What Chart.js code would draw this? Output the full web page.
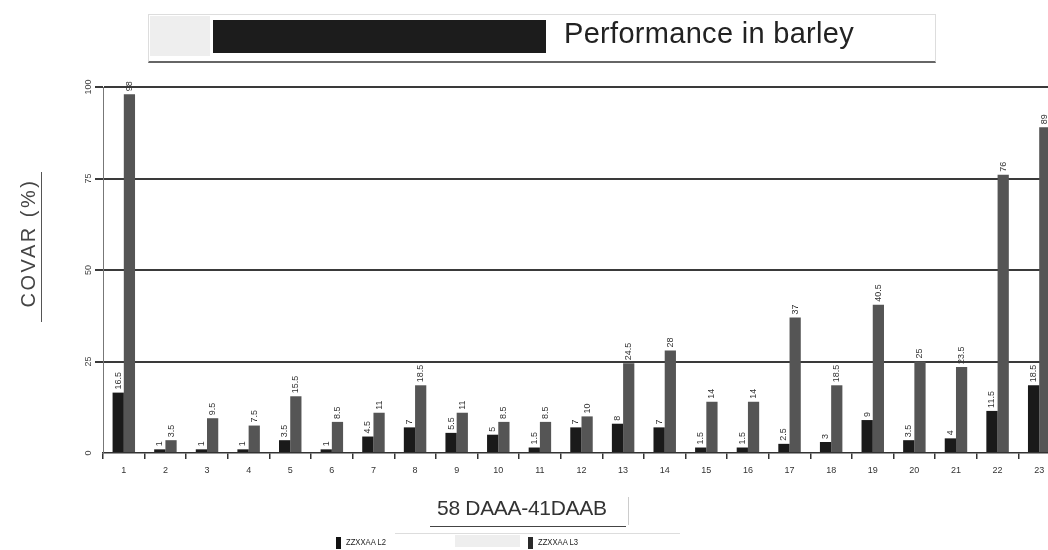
<!DOCTYPE html>
<html>
<head>
<meta charset="utf-8">
<script src="https://cdn.jsdelivr.net/npm/chart.js@4.4.0/dist/chart.umd.min.js"></script>
<style>
  html, body { margin: 0; padding: 0; background: #fff; overflow: hidden; }
  body { width: 1048px; height: 550px; position: relative; font-family: "Liberation Sans", Arial, sans-serif; }
  #wrap { position: absolute; left: 0; top: 0; width: 1075px; height: 550px; }
  .abs { position: absolute; }
  #titleBox { left: 148px; top: 14px; width: 786px; height: 46px; border: 1px solid #ddd; border-bottom: 2px solid #666; }
  #titleShade { left: 150px; top: 16px; width: 60px; height: 40px; background: #eee; }
  #titleBlock { left: 213px; top: 20px; width: 333px; height: 33px; background: #1c1c1c; }
  #titleText { left: 564px; top: 17px; font-size: 29px; color: #222; white-space: nowrap; letter-spacing: 0.3px; }
  #yTitle { left: 28px; top: 243px; font-size: 20px; color: #444; transform: translate(-50%, -50%) rotate(-90deg); white-space: nowrap; letter-spacing: 2.5px; }
  #yRule { left: 41px; top: 172px; width: 1px; height: 150px; background: #555; }
  #xTitle { left: 437px; top: 496px; font-size: 21px; color: #333; white-space: nowrap; letter-spacing: -0.3px; }
  #xRule { left: 430px; top: 526px; width: 196px; height: 1px; background: #444; }
  #xBoxEdge { left: 628px; top: 497px; width: 1px; height: 28px; background: #ccc; }
  .legMark { width: 5px; height: 12px; background: #111; }
  .legText { font-size: 9px; color: #222; white-space: nowrap; transform: scaleX(0.85); transform-origin: left center; }
  #legShade { left: 455px; top: 535px; width: 65px; height: 12px; background: #eee; }
  #legRule { left: 395px; top: 533px; width: 285px; height: 1px; background: #ddd; }
</style>
</head>
<body>
<div id="wrap"><canvas id="chart" width="1075" height="550"></canvas></div>

<div class="abs" id="titleBox"></div>
<div class="abs" id="titleShade"></div>
<div class="abs" id="titleBlock"></div>
<div class="abs" id="titleText">Performance in barley</div>

<div class="abs" id="yTitle">COVAR (%)</div>
<div class="abs" id="yRule"></div>

<div class="abs" id="xTitle">58 DAAA-41DAAB</div>
<div class="abs" id="xRule"></div>
<div class="abs" id="xBoxEdge"></div>

<div class="abs" id="legRule"></div>
<div class="abs" id="legShade"></div>
<div class="abs legMark" style="left:336px; top:537px;"></div>
<div class="abs legText" style="left:346px; top:537px;">ZZXXAA L2</div>
<div class="abs legMark" style="left:528px; top:537px; background:#2a2a2a;"></div>
<div class="abs legText" style="left:538px; top:537px;">ZZXXAA L3</div>

<script>
// categories and series
const lines = ["1", "2", "3", "4", "5", "6", "7", "8", "9", "10", "11", "12",
               "13", "14", "15", "16", "17", "18", "19", "20", "21", "22", "23"];
const seriesL2 = [16.5, 1, 1, 1, 3.5, 1, 4.5, 7, 5.5, 5, 1.5, 7,
                  8, 7, 1.5, 1.5, 2.5, 3, 9, 3.5, 4, 11.5, 18.5];
const seriesL3 = [98, 3.5, 9.5, 7.5, 15.5, 8.5, 11, 18.5, 11, 8.5, 8.5, 10,
                  24.5, 28, 14, 14, 37, 18.5, 40.5, 25, 23.5, 76, 89];
const yTicks = [0, 25, 50, 75, 100];

// rotated value labels above each bar
const valueLabels = {
    id: "valueLabels",
    afterDatasetsDraw(chart) {
        const ctx = chart.ctx;
        ctx.save();
        ctx.font = "9px 'Liberation Sans', Arial, sans-serif";
        ctx.fillStyle = "#333";
        ctx.textAlign = "left";
        ctx.textBaseline = "middle";
        chart.data.datasets.forEach((ds, di) => {
            chart.getDatasetMeta(di).data.forEach((bar, i) => {
                ctx.save();
                ctx.translate(bar.x, bar.y - 3);
                ctx.rotate(-Math.PI / 2);
                ctx.fillText(String(ds.data[i]), 0, 0);
                ctx.restore();
            });
        });
        ctx.restore();
    }
};

// y tick labels drawn sideways next to the axis
const yLabels = {
    id: "yLabels",
    afterDraw(chart) {
        const ctx = chart.ctx;
        const y = chart.scales.y;
        ctx.save();
        ctx.font = "9px 'Liberation Sans', Arial, sans-serif";
        ctx.fillStyle = "#444";
        ctx.textAlign = "center";
        ctx.textBaseline = "middle";
        yTicks.forEach(v => {
            ctx.save();
            ctx.translate(89, y.getPixelForValue(v));
            ctx.rotate(-Math.PI / 2);
            ctx.fillText(String(v), 0, 0);
            ctx.restore();
        });
        ctx.restore();
    }
};

new Chart(document.getElementById("chart"), {
    type: "bar",
    data: {
        labels: lines,
        datasets: [
            { label: "ZZXXAA L2", data: seriesL2, backgroundColor: "#1a1a1a", borderWidth: 0 },
            { label: "ZZXXAA L3", data: seriesL3, backgroundColor: "#555555", borderWidth: 0 },
        ],
    },
    options: {
        responsive: false,
        animation: false,
        categoryPercentage: 0.54,
        barPercentage: 1.0,
        layout: { padding: { left: 0, right: 15, top: 87, bottom: 0 } },
        plugins: {
            legend: { display: false },
            title: { display: false },
            tooltip: { enabled: false },
        },
        scales: {
            x: {
                offset: true,
                grid: {
                    offset: true,
                    drawOnChartArea: false,
                    drawTicks: true,
                    tickLength: 6,
                    color: "#333",
                    lineWidth: 1.5,
                },
                border: { display: true, color: "#333", width: 1.5 },
                ticks: {
                    color: "#333",
                    font: { size: 9 },
                    padding: 6,
                    maxRotation: 0,
                    autoSkip: false,
                },
                afterFit(scale) { scale.height = 97; },
            },
            y: {
                min: 0,
                max: 100,
                ticks: { stepSize: 25, display: false },
                grid: {
                    color: ctx => (ctx.tick && ctx.tick.value === 0 ? "rgba(0,0,0,0)" : "#3a3a3a"),
                    lineWidth: 2,
                    drawTicks: true,
                    tickLength: 8,
                },
                border: { display: true, color: "#777", width: 1 },
                afterFit(scale) { scale.width = 103; },
            },
        },
    },
    plugins: [valueLabels, yLabels],
});
</script>
</body>
</html>
